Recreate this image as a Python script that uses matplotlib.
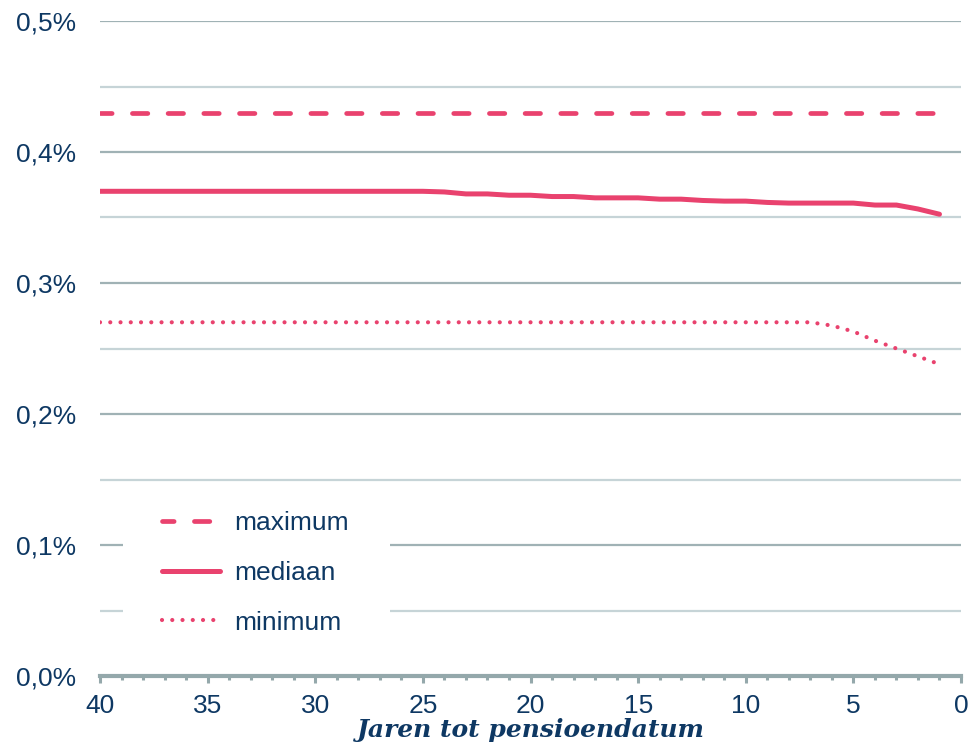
import numpy as np
import matplotlib
matplotlib.use("Agg")
import matplotlib.pyplot as plt
from matplotlib.patches import Rectangle
from matplotlib.ticker import MultipleLocator, FuncFormatter

# Years until retirement date
years = list(range(40, 0, -1))

# Fee levels in percent
maximum = [0.430] * 40
mediaan = [0.370] * 16 + [
    0.3695, 0.368, 0.368, 0.367, 0.367, 0.366, 0.366, 0.365, 0.365, 0.365,
    0.364, 0.364, 0.363, 0.3625, 0.3625, 0.3615, 0.361, 0.361, 0.361, 0.361,
    0.3595, 0.3595, 0.3565, 0.3525,
]
minimum = [0.270] * 34 + [0.2675, 0.263, 0.256, 0.250, 0.244, 0.238]

series_labels = ["maximum", "mediaan", "minimum"]
y_ticks = [0.0, 0.1, 0.2, 0.3, 0.4, 0.5]
x_ticks = [40, 35, 30, 25, 20, 15, 10, 5, 0]
x_label = "Jaren tot pensioendatum"

PINK = "#E9426E"
NAVY = "#0E3863"
GRID_MAJOR = "#A0B2B5"
GRID_MINOR = "#C6D4D7"
AXIS = "#94A8AB"

plt.rcParams["font.family"] = ["Liberation Sans", "DejaVu Sans"]

fig = plt.figure(figsize=(9.71, 7.51), dpi=100)
ax = fig.add_axes([100 / 971, 75 / 751, 861 / 971, 655 / 751])

ax.plot(years, maximum, color=PINK, lw=3.4, ls=(0.8, (3.26, 4.3)),
        dash_capstyle="round", label=series_labels[0], zorder=3)
ax.plot(years, mediaan, color=PINK, lw=3.6, solid_capstyle="round",
        label=series_labels[1], zorder=3)
ax.plot(years, minimum, color=PINK, lw=3.0, ls=(0, (0.01, 2.45)),
        dash_capstyle="round", label=series_labels[2], zorder=3)

ax.set_xlim(40, 0)
ax.set_ylim(0, 0.5)

# grid: darker lines at each labelled level, lighter lines in between
for v in np.arange(0.05, 0.501, 0.05):
    major = abs(round(v * 10) - v * 10) < 1e-6
    ax.axhline(v, color=GRID_MAJOR if major else GRID_MINOR, lw=1.6, zorder=1)

ax.set_yticks(y_ticks)
ax.yaxis.set_major_formatter(FuncFormatter(lambda v, p: f"{v:.1f}%".replace(".", ",")))
ax.set_xticks(x_ticks)
ax.xaxis.set_minor_locator(MultipleLocator(1))

for s in ["top", "right", "left"]:
    ax.spines[s].set_visible(False)
ax.spines["bottom"].set_color(AXIS)
ax.spines["bottom"].set_linewidth(3)
ax.spines["bottom"].set_zorder(4)

ax.tick_params(axis="y", length=0, pad=17, labelsize=19, labelcolor=NAVY)
ax.tick_params(axis="x", which="major", length=5, width=2.2, color=AXIS,
               pad=8, labelsize=19, labelcolor=NAVY, direction="out")
ax.tick_params(axis="x", which="minor", length=3, width=2.2, color=AXIS,
               direction="out")

ax.set_xlabel(x_label, family=["DejaVu Serif"], style="italic",
              weight="bold", fontsize=18, color=NAVY, labelpad=0)

# white panel behind the legend, hiding the gridlines there
ax.add_patch(Rectangle((0.027, 0.045), 0.31, 0.235, transform=ax.transAxes,
                       facecolor="white", edgecolor="none", zorder=2))

leg = ax.legend(loc="upper left", bbox_to_anchor=(0.072, 0.252), frameon=False,
                fontsize=19, handlelength=2.2, handletextpad=0.55,
                labelspacing=0.98, borderpad=0, borderaxespad=0)
for t in leg.get_texts():
    t.set_color(NAVY)
leg.set_zorder(5)

fig.savefig("out.png", dpi=100, facecolor="white")
